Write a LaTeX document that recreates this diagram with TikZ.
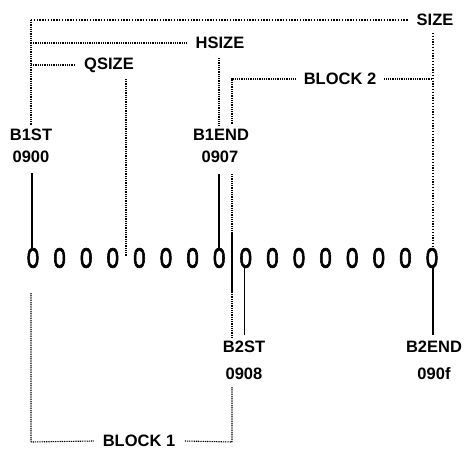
\documentclass[tikz,border=0pt]{standalone}
\usepackage{fontspec}
\setmainfont{Liberation Sans}
\newfontfamily\zerofont[FakeBold=2.5]{Liberation Sans}
\begin{document}
\begin{tikzpicture}[x=1pt,y=-1pt,
  lbl/.style={font=\bfseries\fontsize{16.5}{20}\selectfont, inner sep=0pt, align=center},
  zero/.style={font=\zerofont\fontsize{28}{28}\selectfont, inner sep=0pt, xscale=0.8},
  fine/.style={line width=1.1pt, dash pattern=on 1pt off 0.8pt},
  heavy/.style={line width=1.5pt, dash pattern=on 1.3pt off 1.5pt},
  solidln/.style={line width=1.9pt}]
\useasboundingbox (0,0) rectangle (466,449);
% zeros
\foreach \i in {1,...,16} {
  \node[zero] (z\i) at ({33+(\i-1)*26.6},258) {0};
}
% labels
\node[lbl] (size) at (435,20) {SIZE};
\node[lbl] (hsize) at (220,43) {HSIZE};
\node[lbl] (qsize) at (109,65) {QSIZE};
\node[lbl] (block2) at (340,79) {BLOCK 2};
\node[lbl] (block1) at (139,441) {BLOCK 1};
\node[lbl] (b1st) at (31,135) {B1ST};
\node[lbl] (b1sta) at (31,157) {0900};
\node[lbl] (b1end) at (221,135) {B1END};
\node[lbl] (b1enda) at (220,157) {0907};
\node[lbl] (b2st) at (244,347) {B2ST};
\node[lbl] (b2sta) at (244,374) {0908};
\node[lbl] (b2end) at (434,347) {B2END};
\node[lbl] (b2enda) at (434,374) {090f};
% corner coordinates
\coordinate (tl) at (31,20);
\coordinate (b1top) at (31,125);
\coordinate (hl) at (31,43);
\coordinate (ql) at (31,65);
\coordinate (hv1) at (219,58);
\coordinate (hv2) at (219,125);
\coordinate (qv1) at (126,79);
\coordinate (qv2) at (126,256);
\coordinate (sv1) at (433,33);
\coordinate (b2c) at (232,79);
\coordinate (b2v) at (232,125);
\coordinate (b2r) at (433,79);
\coordinate (m1) at (232,174);
\coordinate (m2) at (232,233);
\coordinate (m3) at (232,292);
\coordinate (m4) at (232,338);
\coordinate (bl1) at (31,293);
\coordinate (bl2) at (31,442);
\coordinate (br1) at (232,387);
\coordinate (br2) at (232,442);
\coordinate (p1) at (32,173);
\coordinate (p8) at (219,174);
\coordinate (p9) at (244.5,335);
\coordinate (p16) at (433,335);
% SIZE
\draw[heavy] (tl) -- (408,20);
\draw[fine] (tl) -- (b1top);
\draw[heavy] (sv1) -- (sv1 |- z16.north);
% HSIZE
\draw[fine] (hl) -- ([xshift=-8pt]hsize.west);
\draw[fine] (hv1) -- (hv2);
% QSIZE
\draw[fine] (ql) -- ([xshift=-9pt]qsize.west);
\draw[fine] (qv1) -- (qv2);
% BLOCK 2
\draw[fine] ([xshift=-8pt]block2.west) -- (b2c) -- (b2v);
\draw[fine] ([xshift=8pt]block2.east) -- (b2r);
% pointers
\draw[solidln] (p1) -- (p1 |- z1.north);
\draw[solidln] (p8) -- (p8 |- z8.north);
\draw[fine] (m1) -- (m2);
\draw[solidln] (m2) -- (m3);
\draw[fine] (m3) -- (m4);
\draw[solidln] (p9 |- z9.south) -- (p9);
\draw[solidln] (p16 |- z16.south) -- (p16);
% BLOCK 1
\draw[fine] (bl1) -- (bl2) -- ([xshift=-9pt]block1.west);
\draw[fine] (br1) -- (br2) -- ([xshift=9pt]block1.east);
\end{tikzpicture}
\end{document}
